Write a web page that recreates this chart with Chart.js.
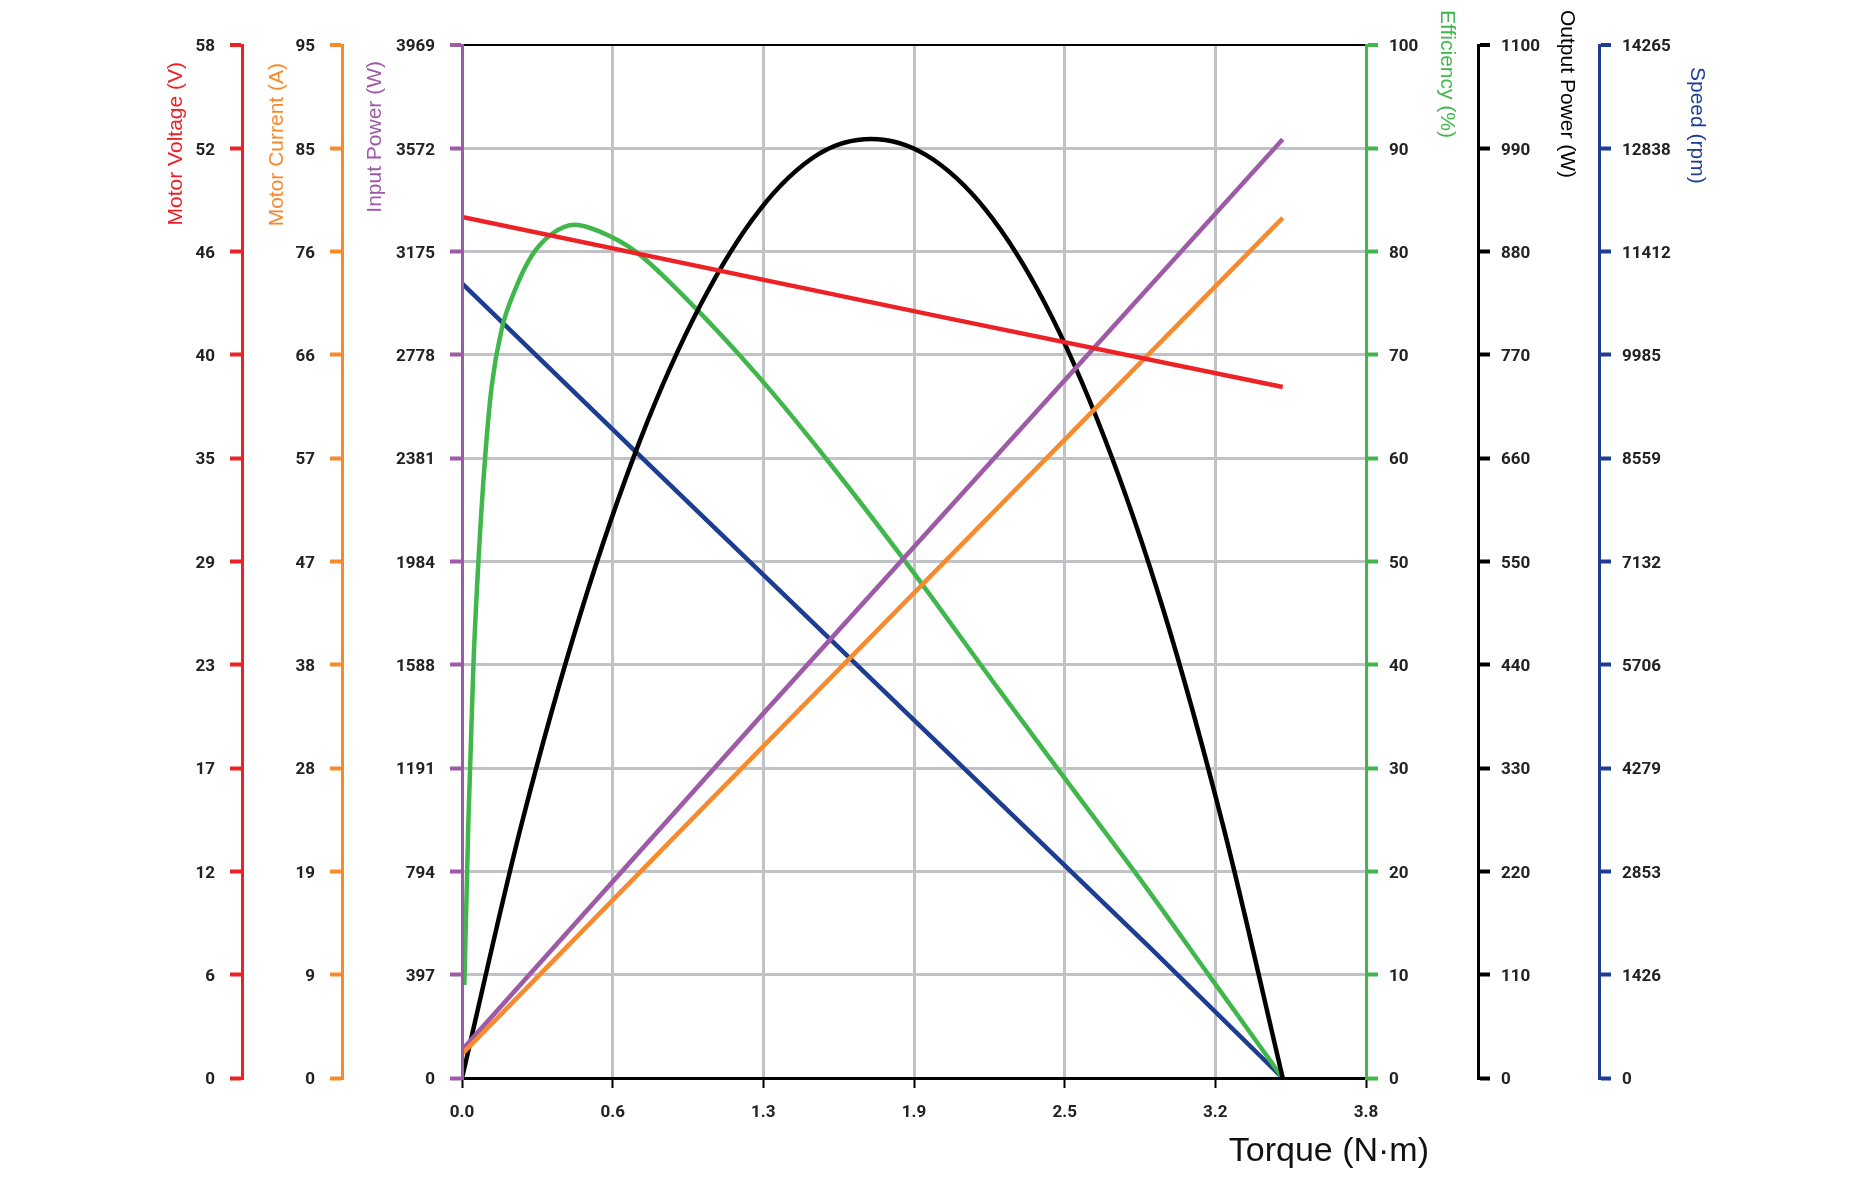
<!DOCTYPE html>
<html>
<head>
<meta charset="utf-8">
<script src="https://cdn.jsdelivr.net/npm/chart.js@4.4.1/dist/chart.umd.min.js"></script>
<style>
  html, body { margin: 0; padding: 0; background: #fff; }
  #wrap { width: 1868px; height: 1200px; position: relative; }
</style>
</head>
<body>
<div id="wrap"><canvas id="chart"></canvas></div>
<script>
// tick labels, bottom to top
const xTickLabels = ["0.0", "0.6", "1.3", "1.9", "2.5", "3.2", "3.8"];
const voltTicks = ["0", "6", "12", "17", "23", "29", "35", "40", "46", "52", "58"];
const currTicks = ["0", "9", "19", "28", "38", "47", "57", "66", "76", "85", "95"];
const pinTicks = ["0", "397", "794", "1191", "1588", "1984", "2381", "2778", "3175", "3572", "3969"];
const effTicks = ["0", "10", "20", "30", "40", "50", "60", "70", "80", "90", "100"];
const poutTicks = ["0", "110", "220", "330", "440", "550", "660", "770", "880", "990", "1100"];
const speedTicks = ["0", "1426", "2853", "4279", "5706", "7132", "8559", "9985", "11412", "12838", "14265"];

const X_MAX = 3.8;
const VOLT_MAX = 58, CURR_MAX = 95, PIN_MAX = 3969, EFF_MAX = 100, POUT_MAX = 1100, SPEED_MAX = 14265;

// series (torque in N·m)
const voltT = [0, 2.01, 3.45];
const voltV = [48.35, 42.75, 38.8];

const currT = [0, 1.266, 3.45];
const currA = [2.2, 30.5, 79.1];

const pinT = [0, 1.266, 3.45];
const pinW = [108, 1400, 3607];

const speedT = [0, 0.72, 2.892, 3.45];
const speedRpm = [10975, 8680, 1800, 0];

const poutT = [0, 0.25, 0.5, 0.75, 1.0, 1.25, 1.5, 1.72, 1.95, 2.2, 2.45, 2.7, 2.95, 3.2, 3.45];
const poutW = [0, 270, 496, 680, 822, 924, 984, 1000, 983, 925, 825, 682, 497, 268, 0];

const effT = [0.01, 0.027, 0.048, 0.069, 0.097, 0.125, 0.167, 0.223, 0.293, 0.377, 0.475, 0.572, 0.73, 0.97, 1.17, 1.31, 1.56, 1.86, 2.26, 2.56, 2.89, 3.16, 3.45];
const effPct = [9, 25, 40, 50, 60, 67, 72.5, 76.3, 79.6, 81.7, 82.6, 82.0, 80.0, 74.8, 69.9, 66.2, 59.1, 50.1, 37.5, 28.2, 18.0, 9.3, 0];

const RED = "#ec2227";
const ORANGE = "#f78a2d";
const PURPLE = "#9d5aa6";
const GREEN = "#40b74a";
const BLUE = "#1d3d93";
const BLACK = "#000000";
const GRID = "#c1c2c5";
const TICK_FONT = { family: "Roboto", size: 17, weight: "bold" };

function pts(xs, ys) {
  return xs.map((x, i) => ({ x, y: ys[i] }));
}

function yAxis(pos, weight, max, labels, color, width, onArea) {
  return {
    type: "linear",
    position: pos,
    weight,
    min: 0,
    max,
    afterBuildTicks: (scale) => {
      scale.ticks = labels.map((_, i) => ({ value: (max * i) / (labels.length - 1) }));
    },
    afterFit: (scale) => { scale.width = width; },
    ticks: {
      autoSkip: false,
      padding: pos === "left" ? 15 : 11,
      labelOffset: 2,
      color: "#222",
      font: TICK_FONT,
      callback: (v, i) => labels[i],
    },
    grid: {
      drawOnChartArea: onArea,
      color: (c) => (c.index === labels.length - 1 ? BLACK : GRID),
      lineWidth: (c) => (c.index === labels.length - 1 ? 2 : 3),
      tickColor: color,
      tickWidth: 4,
      tickLength: 12,
    },
    border: { display: true, color: color, width: 3, z: 1 },
  };
}

const titles = [
  { axis: "yVolt", text: "Motor Voltage (V)", color: RED, dx: 34, dy: 17, rot: -1 },
  { axis: "yCurr", text: "Motor Current (A)", color: ORANGE, dx: 35, dy: 18, rot: -1 },
  { axis: "yPin", text: "Input Power (W)", color: PURPLE, dx: 33, dy: 16, rot: -1 },
  { axis: "yEff", text: "Efficiency (%)", color: GREEN, dx: 81, dy: -35, rot: 1 },
  { axis: "yPout", text: "Output Power (W)", color: BLACK, dx: 89, dy: -35, rot: 1 },
  { axis: "ySpeed", text: "Speed (rpm)", color: BLUE, dx: 98, dy: 22, rot: 1 },
];

const titlePlugin = {
  id: "axisTitles",
  afterDraw(chart) {
    const ctx = chart.ctx;
    const top = chart.chartArea.top;
    ctx.save();
    ctx.font = '21px "Liberation Sans", Arial, sans-serif';
    ctx.textBaseline = "middle";
    titles.forEach((t) => {
      const s = chart.scales[t.axis];
      ctx.save();
      ctx.translate(s.left + t.dx, top + t.dy);
      ctx.rotate((t.rot * Math.PI) / 2);
      ctx.textAlign = t.rot < 0 ? "right" : "left";
      ctx.fillStyle = t.color;
      ctx.fillText(t.text, 0, 0);
      ctx.restore();
    });
    const xs = chart.scales.x;
    ctx.font = '34px "Liberation Sans", Arial, sans-serif';
    ctx.fillStyle = "#111";
    ctx.textAlign = "right";
    ctx.fillText("Torque (N·m)", xs.right + 63, xs.top + 74);
    ctx.restore();
  },
};

function line(data, color, axis, tension) {
  return {
    data,
    yAxisID: axis,
    borderColor: color,
    borderWidth: 4.5,
    pointRadius: 0,
    fill: false,
    tension: tension,
    cubicInterpolationMode: tension ? "monotone" : "default",
  };
}

new Chart(document.getElementById("chart"), {
  type: "line",
  data: {
    datasets: [
      line(pts(voltT, voltV), RED, "yVolt", 0),
      line(pts(currT, currA), ORANGE, "yCurr", 0),
      line(pts(pinT, pinW), PURPLE, "yPin", 0),
      line(pts(poutT, poutW), BLACK, "yPout", 0.4),
      line(pts(effT, effPct), GREEN, "yEff", 0.4),
      line(pts(speedT, speedRpm), BLUE, "ySpeed", 0),
    ],
  },
  options: {
    responsive: true,
    maintainAspectRatio: false,
    animation: false,
    events: [],
    layout: { padding: { left: 142, right: 119, top: 45, bottom: 62 } },
    plugins: { legend: { display: false }, tooltip: { enabled: false } },
    scales: {
      x: {
        type: "linear",
        position: "bottom",
        min: 0,
        max: X_MAX,
        afterBuildTicks: (scale) => {
          scale.ticks = xTickLabels.map((_, i) => ({ value: (X_MAX * i) / (xTickLabels.length - 1) }));
        },
        afterFit: (scale) => { scale.height = 60; },
        ticks: {
          autoSkip: false,
          maxRotation: 0,
          padding: 15,
          color: "#222",
          font: TICK_FONT,
          callback: (v, i) => xTickLabels[i],
        },
        grid: {
          drawOnChartArea: true,
          color: GRID,
          lineWidth: 3,
          tickColor: BLACK,
          tickWidth: 2,
          tickLength: 10,
        },
        border: { display: true, color: BLACK, width: 3, z: 1 },
      },
      yPin: yAxis("left", 0, PIN_MAX, pinTicks, PURPLE, 120, true),
      yCurr: yAxis("left", 1, CURR_MAX, currTicks, ORANGE, 100, false),
      yVolt: yAxis("left", 2, VOLT_MAX, voltTicks, RED, 100, false),
      yEff: yAxis("right", 0, EFF_MAX, effTicks, GREEN, 112, false),
      yPout: yAxis("right", 1, POUT_MAX, poutTicks, BLACK, 121, false),
      ySpeed: yAxis("right", 2, SPEED_MAX, speedTicks, BLUE, 150, false),
    },
  },
  plugins: [titlePlugin],
});
</script>
</body>
</html>
